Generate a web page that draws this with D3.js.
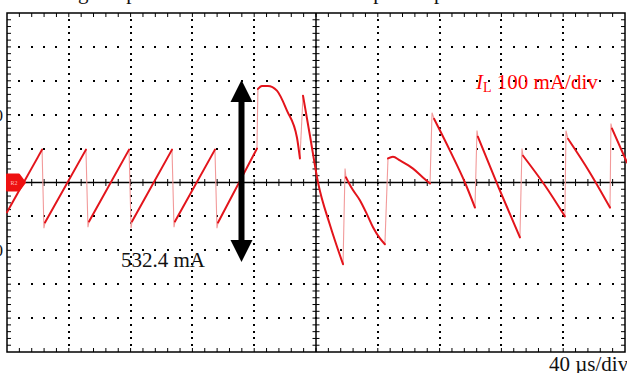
<!DOCTYPE html>
<html>
<head>
<meta charset="utf-8">
<script src="https://cdn.jsdelivr.net/npm/d3@7"></script>
<style>
  body { margin: 0; background: #fff; }
  svg { display: block; font-family: 'Liberation Serif', 'Times New Roman', serif; }
</style>
</head>
<body>
<svg id="chart" width="627" height="373"></svg>
<script>
// scope settings: 40 us/div, 100 mA/div, 10 x 10 divisions
const timeDomain = [0, 400]
const currentDomain = [-500, 500]
const divisions = 10
const minorPerDiv = 5

// inductor current, slow segments of the trace [us, mA]
const ramps = [
  [[0, -88], [22.7, 97]],
  [[24.6, -118], [51.1, 97]],
  [[53.1, -115], [79.0, 97]],
  [[80.9, -115], [106.8, 97]],
  [[108.7, -115], [134.6, 97]],
  [[136.6, -118], [161.8, 100]],
  [[162.4, 276], [165.0, 285], [168.9, 285], [174.7, 271], [181.2, 212], [187.7, 132], [189.6, 71]],
  [[191.6, 256], [196.1, 138], [201.3, 0], [209.1, -126], [217.5, -241]],
  [[219.4, 15], [223.3, -18], [228.5, -53], [233.0, -94], [236.9, -132], [241.4, -165], [244.6, -182]],
  [[246.6, 71], [249.8, 76], [254.3, 65], [262.8, 41], [269.2, 15], [273.8, -3]],
  [[276.4, 188], [286.7, 94], [296.4, 0], [302.9, -74]],
  [[304.8, 135], [318.5, -18], [332.0, -162]],
  [[334.0, 79], [348.2, -9], [361.1, -100]],
  [[363.1, 129], [377.3, 29], [390.3, -74]],
  [[391.6, 159], [401.3, 59]]
]

// overshoot tip of each fast edge between two segments (null: none)
const spikes = [
  [23.9, -135], [52.4, -132], [80.3, -135], [108.1, -132], [135.9, -135],
  null, null, [218.8, 41], null, [275.1, 206], [304.2, 153],
  [333.3, 100], [361.8, 153], [390.9, 174]
]

const titleParts = ['Voltage step and the inductor current', 'step to step']
const scaleLabel = '100 mA/div'
const timeLabel = '40 \u00b5s/div'
const measureLabel = '532.4 mA'

const svg = d3.select('#chart')

const x = d3.scaleLinear().domain(timeDomain).range([7, 625])
const y = d3.scaleLinear().domain(currentDomain).range([352, 13])

const x0 = x.range()[0], x1 = x.range()[1]
const y0 = y.range()[1], y1 = y.range()[0]
const xc = x(200), yc = y(0)
const dx = (x1 - x0) / divisions
const dy = (y1 - y0) / divisions

// cropped title (only descenders show)
svg.selectAll('.title')
  .data(titleParts)
  .enter()
  .append('text')
  .attr('x', (d, i) => i === 0 ? 34 : 350)
  .attr('y', -1)
  .attr('font-size', 21)
  .attr('fill', '#111')
  .text(d => d)

// cropped left labels
svg.selectAll('.sideLabel')
  .data([200, -200])
  .enter()
  .append('text')
  .attr('x', 3)
  .attr('y', d => y(d) + 6)
  .attr('text-anchor', 'end')
  .attr('font-size', 17)
  .attr('fill', '#111')
  .text('0')

// dotted grid
const grid = svg.append('g')
const dots = []
for (let i = 1; i < divisions; i++) {
  if (i === divisions / 2) continue
  for (let k = 1; k < divisions * minorPerDiv; k++) {
    dots.push([x0 + i * dx, y0 + k * dy / minorPerDiv])
    dots.push([x0 + k * dx / minorPerDiv, y0 + i * dy])
  }
}
grid.selectAll('rect')
  .data(dots)
  .enter()
  .append('rect')
  .attr('x', d => Math.round(d[0]) - 1)
  .attr('y', d => Math.round(d[1]) - 1)
  .attr('width', 2)
  .attr('height', 2)
  .attr('fill', '#000')

// frame and centre axes
svg.append('rect')
  .attr('x', x0).attr('y', y0)
  .attr('width', x1 - x0).attr('height', y1 - y0)
  .attr('fill', 'none').attr('stroke', '#000').attr('stroke-width', 1.5)

svg.append('line').attr('x1', x0).attr('x2', x1).attr('y1', yc).attr('y2', yc)
  .attr('stroke', '#000').attr('stroke-width', 1.5)
svg.append('line').attr('x1', xc).attr('x2', xc).attr('y1', y0).attr('y2', y1)
  .attr('stroke', '#000').attr('stroke-width', 1.5)

// minor ticks
const ticks = svg.append('g').attr('stroke', '#000').attr('stroke-width', 1)
const xTicks = d3.range(1, divisions * minorPerDiv).map(k => x0 + k * dx / minorPerDiv)
const yTicks = d3.range(1, divisions * minorPerDiv).map(k => y0 + k * dy / minorPerDiv)

ticks.selectAll('.tt').data(xTicks).enter().append('line')
  .attr('x1', d => d).attr('x2', d => d).attr('y1', y0).attr('y2', y0 + 4)
ticks.selectAll('.tb').data(xTicks).enter().append('line')
  .attr('x1', d => d).attr('x2', d => d).attr('y1', y1).attr('y2', y1 - 4)
ticks.selectAll('.tc').data(xTicks).enter().append('line')
  .attr('x1', d => d).attr('x2', d => d).attr('y1', yc - 3.5).attr('y2', yc + 3.5)
ticks.selectAll('.tl').data(yTicks).enter().append('line')
  .attr('y1', d => d).attr('y2', d => d).attr('x1', x0).attr('x2', x0 + 4)
ticks.selectAll('.tr').data(yTicks).enter().append('line')
  .attr('y1', d => d).attr('y2', d => d).attr('x1', x1).attr('x2', x1 - 4)
ticks.selectAll('.tv').data(yTicks).enter().append('line')
  .attr('y1', d => d).attr('y2', d => d).attr('x1', xc - 3.5).attr('x2', xc + 3.5)

// trace
const edgeLine = d3.line().x(d => x(d[0])).y(d => y(d[1]))
const rampLine = d3.line().x(d => x(d[0])).y(d => y(d[1])).curve(d3.curveMonotoneX)

const edges = spikes.map((s, i) => {
  const a = ramps[i][ramps[i].length - 1]
  const b = ramps[i + 1][0]
  return s ? [a, s, b] : [a, b]
})

svg.append('g')
  .selectAll('path')
  .data(edges)
  .enter()
  .append('path')
  .attr('d', edgeLine)
  .attr('fill', 'none')
  .attr('stroke', '#f29a9a')
  .attr('stroke-width', 1.1)

svg.append('g')
  .selectAll('path')
  .data(ramps)
  .enter()
  .append('path')
  .attr('d', rampLine)
  .attr('fill', 'none')
  .attr('stroke', '#e3141b')
  .attr('stroke-width', 2)
  .attr('stroke-linejoin', 'round')
  .attr('stroke-linecap', 'round')

// channel marker
const marker = svg.append('g')
marker.append('path')
  .attr('d', `M${x0},${yc - 8} L${x0 + 12},${yc - 8} L${x0 + 18},${yc} L${x0 + 12},${yc + 8} L${x0},${yc + 8} Z`)
  .attr('fill', '#ee1111')
  .attr('stroke', '#ee1111')
  .attr('stroke-linejoin', 'round')
  .attr('stroke-width', 2)
marker.append('text')
  .attr('x', x0 + 7)
  .attr('y', yc + 2.5)
  .attr('text-anchor', 'middle')
  .attr('font-size', 6)
  .attr('fill', '#fbb')
  .text('R2')

// double arrow for the current step
const ax = 241.5
const aTop = 80, aBot = 262, head = 22, halfW = 11
const arrow = svg.append('g').attr('fill', '#000')
arrow.append('rect').attr('x', ax - 3).attr('y', aTop + head - 1).attr('width', 6).attr('height', aBot - aTop - 2 * head + 2)
arrow.append('path').attr('d', `M${ax},${aTop} L${ax + halfW},${aTop + head} L${ax - halfW},${aTop + head} Z`)
arrow.append('path').attr('d', `M${ax},${aBot} L${ax + halfW},${aBot - head} L${ax - halfW},${aBot - head} Z`)

svg.append('text')
  .attr('x', 121)
  .attr('y', 267)
  .attr('font-size', 21)
  .attr('fill', '#111')
  .text(measureLabel)

// channel scale
const chLabel = svg.append('text')
  .attr('x', 476)
  .attr('y', 89)
  .attr('font-size', 21)
  .attr('fill', '#f00')
chLabel.append('tspan').attr('font-style', 'italic').text('I')
chLabel.append('tspan').attr('font-size', 14).attr('dy', 3).text('L')
chLabel.append('tspan').attr('dy', -3).text(' ' + scaleLabel)

svg.append('text')
  .attr('x', 549)
  .attr('y', 371)
  .attr('font-size', 21)
  .attr('fill', '#111')
  .text(timeLabel)
</script>
</body>
</html>
